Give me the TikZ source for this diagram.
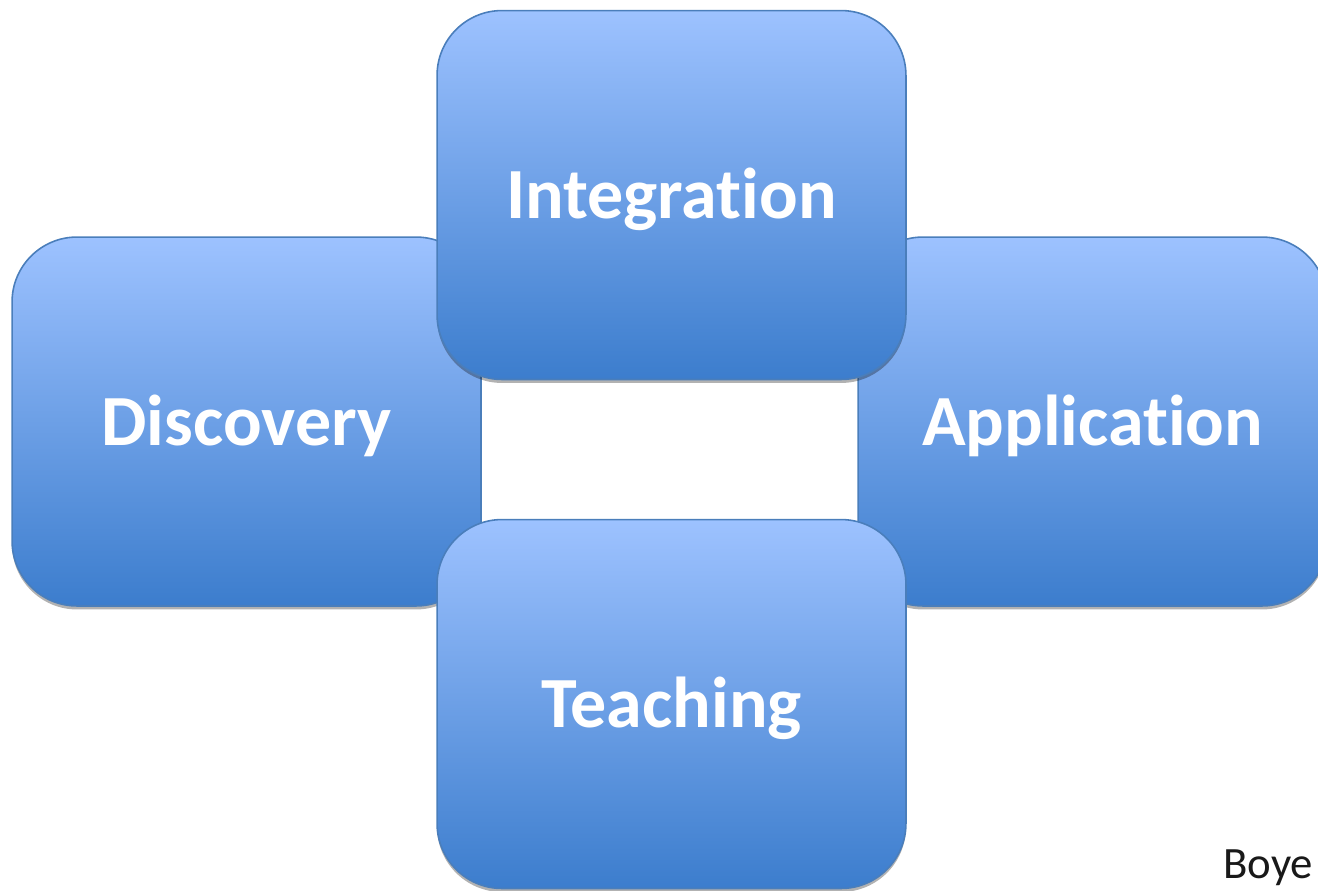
\documentclass[tikz,border=0pt]{standalone}
\usepackage{fontspec}
\setmainfont{Carlito}[Ligatures=NoCommon]
\usetikzlibrary{shadows}
\definecolor{cardtop}{RGB}{157,194,255}
\definecolor{cardbottom}{RGB}{60,125,205}
\definecolor{cardline}{RGB}{74,126,187}
\tikzset{
  cardbox/.style={rectangle, rounded corners=1.3cm, draw=cardline, line width=0.9pt,
    top color=cardtop, bottom color=cardbottom,
    minimum width=9.38cm, minimum height=7.38cm, inner sep=0pt,
    text height=1.1cm, text depth=0.16cm,
    text=white, font=\fontsize{41}{49}\selectfont\bfseries,
    drop shadow={shadow xshift=0pt, shadow yshift=-0.07cm, opacity=0.3, fill=black}}
}
\begin{document}
\begin{tikzpicture}[x=0.02cm, y=-0.02cm]
  \useasboundingbox (0,0) rectangle (1318,890);
  \clip (0,0) rectangle (1318,890);
  \node [cardbox] (discovery) at (246.5,421.5) {Discovery};
  \node [cardbox] (application) at (1092.5,421.5) {Application};
  \node [cardbox] (integration) at (671.5,195) {Integration};
  \node [cardbox] (teaching) at (671.5,704) {Teaching};

  \node [anchor=base west, inner sep=0pt, font=\fontsize{25.5}{30}\selectfont, text=black!90] (boye) at (1223,878) {Boye};
\end{tikzpicture}
\end{document}
